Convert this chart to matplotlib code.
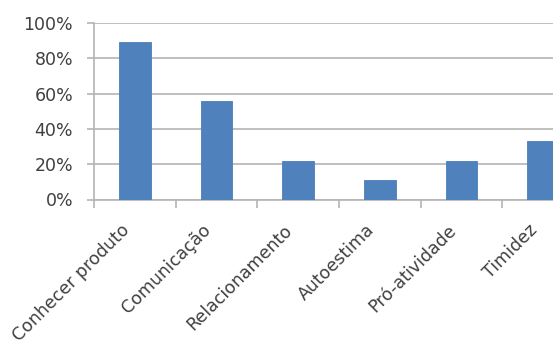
import numpy as np
import matplotlib.pyplot as plt
from matplotlib.ticker import PercentFormatter

# dados do gráfico
categorias = ['Conhecer produto', 'Comunicação', 'Relacionamento',
              'Autoestima', 'Pró-atividade', 'Timidez']
valores = [0.89, 0.56, 0.22, 0.11, 0.22, 0.33]
yticks = [0, 0.2, 0.4, 0.6, 0.8, 1.0]

cor_barra = '#4F81BD'
cor_grade = '#B4B4B4'

fig = plt.figure(figsize=(5.53, 3.52), dpi=100)
# o eixo passa da borda direita, como na imagem original (cortada)
ax = fig.add_axes([94 / 553, 152.5 / 352, 490 / 553, 176.5 / 352])

x = np.arange(len(categorias))
ax.bar(x, valores, width=0.39, color=cor_barra, edgecolor='#4A7EBB', linewidth=0.6, zorder=3)

ax.set_xlim(-0.5, len(categorias) - 0.5)
ax.set_ylim(0, 1.0)
ax.set_yticks(yticks)
ax.yaxis.set_major_formatter(PercentFormatter(1.0, decimals=0))
ax.grid(axis='y', color=cor_grade, linewidth=1.2, zorder=0)

for s in ['top', 'right']:
    ax.spines[s].set_visible(False)
ax.spines['left'].set_color(cor_grade)
ax.spines['bottom'].set_color(cor_grade)
ax.spines['left'].set_linewidth(1.2)
ax.spines['bottom'].set_linewidth(1.2)

ax.tick_params(axis='y', length=5, color=cor_grade, width=1.2, labelsize=12.5, labelcolor='#404040', pad=10)
ax.set_xticks(np.arange(len(categorias) + 1) - 0.5)
ax.set_xticklabels([])
ax.tick_params(axis='x', length=6, color=cor_grade, width=1.2)

for i, c in enumerate(categorias):
    ax.annotate(c, xy=(i, 0), xycoords=('data', 'axes fraction'),
                xytext=(-6, -20), textcoords='offset points',
                rotation=45, ha='right', va='center', rotation_mode='anchor',
                fontsize=12.5, color='#404040', annotation_clip=False)

plt.savefig('out.png', dpi=100)
